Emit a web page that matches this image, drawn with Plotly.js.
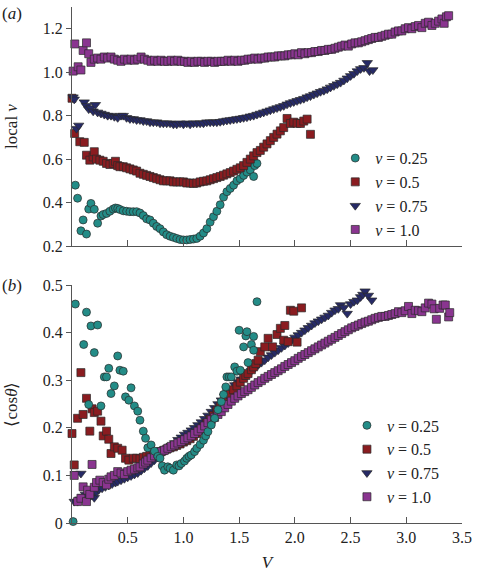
<!DOCTYPE html>
<html><head><meta charset="utf-8">
<script src="https://cdn.plot.ly/plotly-3.0.1.min.js"></script>
<style>body{margin:0;background:#fff}#c{width:477px;height:574px}</style>
</head><body><div id="c"></div>
<script>
// ---------- Panel (a): local nu vs V ----------
const seriesLabels = ['<i>ν</i> = 0.25', '<i>ν</i> = 0.5', '<i>ν</i> = 0.75', '<i>ν</i> = 1.0'];

const a025x = [0.03,0.05,0.08,0.10,0.13,0.15,0.17,0.20,0.23,0.26,0.28,0.31,0.34,0.37,0.39,0.41,0.43,0.46,0.49,0.52,0.55,0.58,0.61,0.64,0.67,0.70,0.73,0.76,0.79,0.82,0.85,0.88,0.91,0.94,0.97,1.00,1.03,1.06,1.09,1.12,1.15,1.18,1.21,1.24,1.27,1.30,1.33,1.36,1.39,1.42,1.45,1.48,1.51,1.54,1.57,1.60,1.63,1.64,1.66];
const a025y = [0.48,0.42,0.27,0.32,0.255,0.37,0.396,0.369,0.305,0.338,0.345,0.35,0.36,0.37,0.375,0.373,0.368,0.362,0.36,0.358,0.358,0.358,0.352,0.34,0.325,0.32,0.305,0.29,0.28,0.265,0.252,0.245,0.24,0.235,0.23,0.228,0.228,0.23,0.232,0.235,0.245,0.26,0.28,0.31,0.335,0.36,0.39,0.425,0.45,0.465,0.48,0.50,0.51,0.525,0.54,0.55,0.52,0.57,0.58];

const a05x = [0.00,0.024,0.07,0.11,0.13,0.16,0.19,0.20,0.22,0.25,0.28,0.31,0.34,0.37,0.39,0.41,0.43,0.46,0.49,0.52,0.55,0.58,0.61,0.64,0.67,0.70,0.73,0.76,0.79,0.82,0.85,0.88,0.91,0.94,0.97,1.00,1.03,1.06,1.09,1.12,1.15,1.18,1.21,1.24,1.27,1.30,1.33,1.36,1.39,1.42,1.45,1.48,1.51,1.54,1.57,1.60,1.63,1.66,1.69,1.72,1.75,1.78,1.81,1.84,1.87,1.90,1.93,1.96,1.99,2.02,2.05,2.08,2.11,2.14];
const a05y = [0.88,0.718,0.68,0.677,0.618,0.595,0.61,0.634,0.60,0.595,0.59,0.58,0.575,0.58,0.59,0.57,0.565,0.565,0.56,0.555,0.55,0.545,0.535,0.53,0.525,0.52,0.515,0.51,0.505,0.50,0.50,0.50,0.495,0.495,0.495,0.495,0.49,0.49,0.488,0.49,0.495,0.498,0.50,0.505,0.51,0.515,0.52,0.526,0.532,0.538,0.545,0.553,0.56,0.57,0.585,0.60,0.615,0.63,0.64,0.655,0.67,0.685,0.70,0.715,0.73,0.745,0.787,0.764,0.77,0.765,0.764,0.775,0.784,0.714];

const a075x = [0.01,0.02,0.04,0.06,0.11,0.13,0.15,0.17,0.19,0.21,0.23,0.26,0.29,0.32,0.35,0.38,0.41,0.44,0.46,0.49,0.52,0.55,0.58,0.61,0.64,0.67,0.70,0.73,0.76,0.79,0.82,0.85,0.88,0.91,0.94,0.97,1.00,1.03,1.06,1.09,1.12,1.15,1.18,1.21,1.24,1.27,1.30,1.33,1.36,1.39,1.42,1.45,1.48,1.51,1.54,1.57,1.60,1.63,1.66,1.69,1.72,1.75,1.78,1.81,1.84,1.87,1.90,1.93,1.96,1.99,2.02,2.05,2.08,2.11,2.14,2.17,2.20,2.23,2.26,2.29,2.32,2.35,2.38,2.41,2.44,2.47,2.50,2.53,2.56,2.59,2.62,2.65,2.67,2.70];
const a075y = [0.885,0.875,0.74,0.755,0.862,0.845,0.83,0.835,0.82,0.85,0.815,0.81,0.805,0.80,0.80,0.795,0.79,0.80,0.80,0.79,0.785,0.785,0.78,0.78,0.775,0.775,0.77,0.77,0.77,0.765,0.765,0.765,0.765,0.76,0.76,0.765,0.76,0.765,0.76,0.765,0.765,0.765,0.765,0.77,0.77,0.77,0.77,0.772,0.775,0.778,0.78,0.782,0.785,0.787,0.79,0.793,0.797,0.80,0.805,0.81,0.815,0.82,0.825,0.83,0.835,0.84,0.845,0.852,0.858,0.863,0.868,0.873,0.878,0.885,0.89,0.897,0.903,0.91,0.915,0.922,0.93,0.937,0.945,0.952,0.962,0.972,0.983,0.993,1.005,1.015,1.02,1.043,1.005,1.01];

const a10x = [0.01,0.025,0.055,0.08,0.10,0.13,0.15,0.17,0.20,0.23,0.26,0.29,0.32,0.35,0.38,0.41,0.44,0.47,0.50,0.53,0.56,0.59,0.62,0.65,0.68,0.71,0.74,0.77,0.80,0.83,0.86,0.89,0.92,0.95,0.98,1.01,1.04,1.07,1.10,1.13,1.16,1.19,1.22,1.25,1.28,1.31,1.34,1.37,1.40,1.43,1.46,1.49,1.52,1.55,1.58,1.61,1.64,1.67,1.70,1.73,1.76,1.79,1.82,1.85,1.88,1.91,1.94,1.97,2.00,2.03,2.06,2.09,2.12,2.15,2.18,2.21,2.24,2.27,2.30,2.33,2.36,2.39,2.42,2.45,2.48,2.51,2.54,2.57,2.60,2.63,2.66,2.69,2.72,2.75,2.78,2.81,2.84,2.87,2.90,2.93,2.96,2.99,3.02,3.05,3.08,3.11,3.14,3.17,3.20,3.23,3.26,3.29,3.32,3.34,3.36,3.38];
const a10y = [1.005,1.13,1.025,1.01,1.10,1.135,1.085,1.045,1.06,1.065,1.06,1.07,1.065,1.07,1.06,1.055,1.05,1.06,1.055,1.06,1.055,1.06,1.07,1.06,1.055,1.05,1.055,1.05,1.055,1.05,1.05,1.055,1.05,1.055,1.05,1.05,1.045,1.05,1.045,1.05,1.05,1.045,1.05,1.05,1.045,1.05,1.05,1.05,1.055,1.05,1.055,1.05,1.055,1.055,1.06,1.06,1.065,1.06,1.065,1.065,1.07,1.07,1.07,1.075,1.075,1.075,1.08,1.08,1.085,1.08,1.09,1.085,1.09,1.09,1.095,1.095,1.10,1.10,1.105,1.105,1.11,1.115,1.12,1.125,1.12,1.13,1.135,1.135,1.14,1.145,1.15,1.155,1.16,1.16,1.165,1.17,1.175,1.175,1.185,1.19,1.19,1.20,1.205,1.20,1.21,1.215,1.205,1.225,1.23,1.215,1.225,1.235,1.245,1.225,1.255,1.26];

// ---------- Panel (b): <cos theta> vs V ----------
const b025x = [0.01,0.03,0.105,0.13,0.15,0.17,0.20,0.23,0.26,0.29,0.31,0.33,0.35,0.38,0.41,0.43,0.46,0.48,0.51,0.53,0.56,0.59,0.61,0.64,0.66,0.68,0.71,0.74,0.77,0.79,0.81,0.83,0.86,0.88,0.91,0.94,0.96,0.98,1.01,1.03,1.05,1.07,1.10,1.12,1.15,1.18,1.20,1.22,1.25,1.28,1.31,1.34,1.36,1.38,1.39,1.41,1.43,1.46,1.48,1.50,1.51,1.54,1.56,1.57,1.58,1.61,1.63,1.63,1.66];
const b025y = [0.003,0.46,0.375,0.443,0.249,0.414,0.358,0.416,0.246,0.307,0.307,0.325,0.272,0.288,0.351,0.321,0.319,0.265,0.258,0.284,0.246,0.235,0.216,0.193,0.178,0.158,0.164,0.151,0.14,0.136,0.12,0.111,0.118,0.115,0.111,0.122,0.12,0.125,0.13,0.136,0.14,0.143,0.15,0.157,0.165,0.174,0.183,0.192,0.206,0.22,0.238,0.255,0.27,0.286,0.307,0.307,0.307,0.328,0.319,0.405,0.321,0.37,0.393,0.402,0.337,0.375,0.392,0.363,0.465];

const b05x = [0.00,0.02,0.05,0.08,0.10,0.13,0.16,0.18,0.20,0.23,0.26,0.28,0.31,0.33,0.35,0.38,0.41,0.45,0.48,0.51,0.55,0.58,0.61,0.64,0.67,0.70,0.73,0.76,0.79,0.82,0.85,0.88,0.91,0.94,0.97,1.00,1.03,1.06,1.09,1.12,1.15,1.18,1.21,1.24,1.27,1.30,1.33,1.36,1.39,1.42,1.45,1.48,1.51,1.54,1.56,1.58,1.61,1.63,1.65,1.67,1.69,1.73,1.76,1.80,1.84,1.87,1.90,1.91,1.94,1.96,1.99,2.02,2.06];
const b05y = [0.188,0.122,0.22,0.316,0.228,0.262,0.193,0.24,0.232,0.235,0.214,0.183,0.193,0.176,0.146,0.16,0.157,0.153,0.136,0.132,0.136,0.136,0.135,0.138,0.14,0.142,0.145,0.147,0.15,0.152,0.155,0.158,0.16,0.163,0.166,0.17,0.173,0.177,0.182,0.188,0.195,0.202,0.21,0.218,0.226,0.236,0.245,0.254,0.262,0.27,0.28,0.288,0.296,0.304,0.31,0.314,0.322,0.328,0.335,0.342,0.36,0.37,0.388,0.37,0.396,0.409,0.384,0.415,0.381,0.447,0.445,0.38,0.452];

const b075x = [0.02,0.03,0.05,0.07,0.08,0.10,0.12,0.14,0.16,0.18,0.20,0.22,0.24,0.27,0.30,0.33,0.36,0.39,0.41,0.44,0.47,0.50,0.53,0.56,0.59,0.62,0.65,0.68,0.71,0.74,0.77,0.80,0.83,0.86,0.89,0.92,0.95,0.98,1.01,1.04,1.07,1.10,1.13,1.16,1.19,1.22,1.25,1.28,1.31,1.34,1.37,1.40,1.43,1.46,1.49,1.52,1.55,1.58,1.61,1.64,1.67,1.70,1.73,1.76,1.79,1.82,1.85,1.88,1.91,1.94,1.97,2.00,2.03,2.06,2.09,2.12,2.15,2.18,2.21,2.24,2.27,2.30,2.33,2.36,2.39,2.41,2.44,2.47,2.50,2.53,2.56,2.59,2.61,2.63,2.66,2.69];
const b075y = [0.045,0.103,0.045,0.05,0.104,0.055,0.06,0.05,0.065,0.058,0.053,0.065,0.07,0.073,0.076,0.079,0.082,0.085,0.087,0.09,0.093,0.096,0.099,0.102,0.105,0.11,0.115,0.12,0.126,0.132,0.138,0.144,0.15,0.156,0.162,0.168,0.175,0.18,0.186,0.19,0.195,0.20,0.206,0.212,0.219,0.226,0.234,0.242,0.25,0.258,0.266,0.274,0.282,0.29,0.296,0.302,0.308,0.314,0.32,0.326,0.332,0.337,0.342,0.348,0.353,0.358,0.363,0.368,0.373,0.378,0.384,0.39,0.395,0.40,0.405,0.41,0.415,0.42,0.424,0.428,0.432,0.436,0.442,0.447,0.45,0.458,0.453,0.44,0.46,0.465,0.468,0.475,0.48,0.487,0.478,0.468];

const b10x = [0.02,0.05,0.08,0.10,0.13,0.14,0.16,0.18,0.20,0.22,0.25,0.28,0.31,0.33,0.35,0.38,0.41,0.44,0.47,0.50,0.53,0.56,0.59,0.61,0.64,0.66,0.68,0.71,0.74,0.77,0.80,0.83,0.86,0.89,0.92,0.95,0.98,1.01,1.04,1.07,1.10,1.13,1.16,1.19,1.22,1.25,1.28,1.31,1.34,1.37,1.40,1.43,1.46,1.49,1.52,1.55,1.58,1.61,1.64,1.67,1.70,1.73,1.76,1.79,1.82,1.85,1.88,1.91,1.94,1.97,2.00,2.03,2.06,2.09,2.12,2.15,2.18,2.21,2.24,2.27,2.30,2.33,2.36,2.39,2.42,2.45,2.48,2.51,2.54,2.57,2.60,2.63,2.66,2.69,2.72,2.75,2.78,2.81,2.84,2.87,2.90,2.93,2.96,2.99,3.02,3.05,3.08,3.11,3.14,3.17,3.20,3.23,3.25,3.27,3.30,3.33,3.35,3.38,3.39];
const b10y = [0.10,0.045,0.052,0.076,0.045,0.069,0.06,0.123,0.075,0.085,0.09,0.085,0.08,0.092,0.097,0.10,0.108,0.105,0.102,0.108,0.111,0.113,0.116,0.118,0.124,0.128,0.132,0.137,0.141,0.146,0.15,0.153,0.157,0.161,0.164,0.168,0.171,0.175,0.179,0.183,0.188,0.193,0.198,0.204,0.211,0.217,0.222,0.228,0.234,0.242,0.249,0.256,0.262,0.267,0.272,0.276,0.28,0.285,0.29,0.295,0.299,0.304,0.308,0.312,0.316,0.32,0.324,0.329,0.333,0.337,0.341,0.346,0.35,0.354,0.358,0.362,0.366,0.37,0.374,0.378,0.382,0.386,0.39,0.394,0.398,0.402,0.406,0.41,0.413,0.416,0.419,0.422,0.424,0.427,0.43,0.432,0.434,0.434,0.436,0.438,0.44,0.444,0.442,0.446,0.455,0.44,0.447,0.446,0.444,0.452,0.462,0.46,0.45,0.428,0.451,0.458,0.458,0.433,0.442];

const xTicks = [0.5,1.0,1.5,2.0,2.5,3.0,3.5];
const xTickText = ['0.5','1.0','1.5','2.0','2.5','3.0','3.5'];
const yaTicks = [0.2,0.4,0.6,0.8,1.0,1.2];
const yaTickText = ['0.2','0.4','0.6','0.8','1.0','1.2'];
const ybTicks = [0,0.1,0.2,0.3,0.4,0.5];
const ybTickText = ['0','0.1','0.2','0.3','0.4','0.5'];

const colors = ['#238c87','#8a1c20','#262a66','#8a3590'];
const symbols = ['circle','square','triangle-down','square'];
const serif = '"Liberation Serif", "Times New Roman", Times, serif';

function mk(x, y, i, xa, ya, leg, rank) {
  return {
    x: x, y: y, type: 'scatter', mode: 'markers', name: seriesLabels[i],
    xaxis: xa, yaxis: ya, legend: leg, legendrank: rank, cliponaxis: false,
    marker: {symbol: symbols[i], color: colors[i], size: i===2 ? 9 : 8,
             line: {color: '#2a2a2a', width: 0.7}}
  };
}

const data = [
  mk(a025x, a025y, 0, 'x', 'y', 'legend', 1),
  mk(a05x, a05y, 1, 'x', 'y', 'legend', 2),
  mk(a075x, a075y, 2, 'x', 'y', 'legend', 3),
  mk(a10x, a10y, 3, 'x', 'y', 'legend', 4),
  mk(b075x, b075y, 2, 'x2', 'y2', 'legend2', 3),
  mk(b05x, b05y, 1, 'x2', 'y2', 'legend2', 2),
  mk(b10x, b10y, 3, 'x2', 'y2', 'legend2', 4),
  mk(b025x, b025y, 0, 'x2', 'y2', 'legend2', 1)
];

const axBase = {showgrid: false, zeroline: false, showline: true, linecolor: '#555', linewidth: 1,
  tickcolor: '#555', tickwidth: 1, tickfont: {family: serif, size: 16, color: '#222'}, fixedrange: true};

const legBase = {font: {family: serif, size: 16, color: '#222'}, bgcolor: 'rgba(0,0,0,0)',
  borderwidth: 0, xanchor: 'left', yanchor: 'top', tracegroupgap: 0, itemclick: false};

const layout = {
  width: 477, height: 574, paper_bgcolor: '#fff', plot_bgcolor: '#fff',
  margin: {l: 72, r: 15, t: 7, b: 51},
  font: {family: serif, size: 16, color: '#222'},
  xaxis: Object.assign({}, axBase, {domain: [0,1], anchor: 'y', range: [0,3.5], ticks: 'inside', ticklen: 6,
    tickvals: xTicks, ticktext: xTickText, showticklabels: false}),
  yaxis: Object.assign({}, axBase, {domain: [0.5368,1], anchor: 'x', range: [0.2,1.3], ticks: 'outside', ticklen: 5,
    tickvals: yaTicks, ticktext: yaTickText,
    title: {text: 'local <i>ν</i>', font: {family: serif, size: 17, color: '#222'}, standoff: 20}}),
  xaxis2: Object.assign({}, axBase, {domain: [0,1], anchor: 'y2', range: [0,3.5], ticks: 'inside', ticklen: 6,
    tickvals: xTicks, ticktext: xTickText,
    title: {text: '<i>V</i>', font: {family: serif, size: 17, color: '#222'}, standoff: 10}}),
  yaxis2: Object.assign({}, axBase, {domain: [0,0.4612], anchor: 'x2', range: [0,0.5], ticks: 'outside', ticklen: 5,
    tickvals: ybTicks, ticktext: ybTickText,
    title: {text: '⟨cos<i>θ</i>⟩', font: {family: serif, size: 17, color: '#222'}, standoff: 20}}),
  legend: Object.assign({}, legBase, {x: 0.675, y: 0.74}),
  legend2: Object.assign({}, legBase, {x: 0.705, y: 0.222}),
  annotations: [
    {text: '(<i>a</i>)', xref: 'paper', yref: 'paper', x: -0.185, y: 1.0, xanchor: 'left', yanchor: 'middle',
     yshift: -6, showarrow: false, font: {family: serif, size: 17, color: '#222'}},
    {text: '(<i>b</i>)', xref: 'paper', yref: 'paper', x: -0.185, y: 0.4612, xanchor: 'left', yanchor: 'middle',
     showarrow: false, font: {family: serif, size: 17, color: '#222'}}
  ],
  showlegend: true
};

Plotly.newPlot('c', data, layout, {displayModeBar: false, staticPlot: true});
</script>
</body></html>
